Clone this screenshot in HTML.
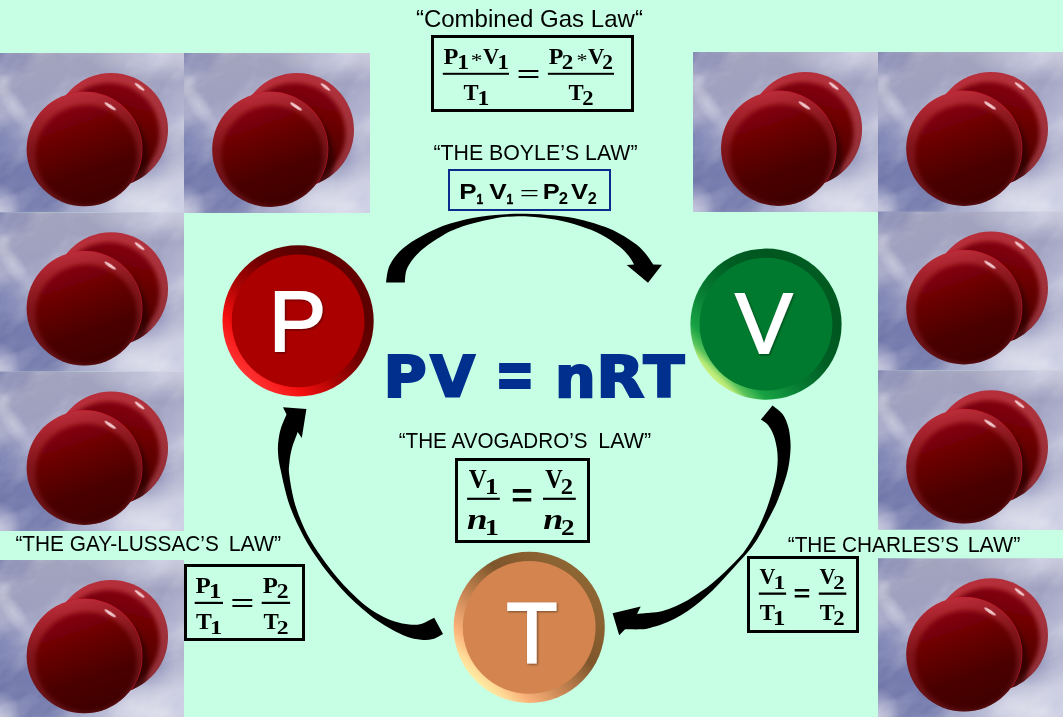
<!DOCTYPE html>
<html lang="en">
<head>
<meta charset="utf-8">
<title>Gas Laws</title>
<style>
html,body{margin:0;padding:0;background:#c6ffe4;overflow:hidden;}
svg{display:block;}
.ar{font-family:"Liberation Sans",Arial,sans-serif;}
.sr{font-family:"Liberation Serif","Times New Roman",serif;}
.b{font-weight:bold;}
.i{font-style:italic;}
.vb{font-family:"DejaVu Sans",Verdana,sans-serif;font-weight:bold;}
</style>
</head>
<body>
<svg width="1063" height="717" viewBox="0 0 1063 717">
<defs>
<linearGradient id="skyb" x1="0" y1="0" x2="0.15" y2="1">
  <stop offset="0" stop-color="#a4a4be"/>
  <stop offset="0.5" stop-color="#9c9ebf"/>
  <stop offset="1" stop-color="#9095bc"/>
</linearGradient>
<radialGradient id="cl" cx="0.5" cy="0.5" r="0.5">
  <stop offset="0" stop-color="#e2e2ee" stop-opacity="0.95"/>
  <stop offset="0.55" stop-color="#dcdcea" stop-opacity="0.55"/>
  <stop offset="1" stop-color="#d8d8e6" stop-opacity="0"/>
</radialGradient>
<radialGradient id="dk" cx="0.5" cy="0.5" r="0.5">
  <stop offset="0" stop-color="#6a71a6" stop-opacity="0.95"/>
  <stop offset="0.6" stop-color="#6a71a6" stop-opacity="0.6"/>
  <stop offset="1" stop-color="#6a71a6" stop-opacity="0"/>
</radialGradient>
<linearGradient id="rimF" x1="0.38" y1="0" x2="0.6" y2="1">
  <stop offset="0" stop-color="#bc2e3a"/>
  <stop offset="0.14" stop-color="#a6222c"/>
  <stop offset="0.4" stop-color="#80141a"/>
  <stop offset="1" stop-color="#5c1216"/>
</linearGradient>
<linearGradient id="inF" x1="0.3" y1="0" x2="0.65" y2="1">
  <stop offset="0" stop-color="#88070c"/>
  <stop offset="0.3" stop-color="#6a0104"/>
  <stop offset="0.65" stop-color="#4c0000"/>
  <stop offset="1" stop-color="#3e0000"/>
</linearGradient>
<linearGradient id="rimB" x1="0.2" y1="0" x2="0.8" y2="1">
  <stop offset="0" stop-color="#ba2e3a"/>
  <stop offset="0.5" stop-color="#aa323c"/>
  <stop offset="1" stop-color="#8e3038"/>
</linearGradient>
<linearGradient id="inB" x1="0.6" y1="0" x2="0.35" y2="1">
  <stop offset="0" stop-color="#84060a"/>
  <stop offset="0.4" stop-color="#640003"/>
  <stop offset="1" stop-color="#400000"/>
</linearGradient>
<filter id="bl2" x="-50%" y="-50%" width="200%" height="200%"><feGaussianBlur stdDeviation="2"/></filter>
<filter id="bl1" x="-50%" y="-50%" width="200%" height="200%"><feGaussianBlur stdDeviation="0.9"/></filter>
<filter id="bl05" x="-50%" y="-50%" width="200%" height="200%"><feGaussianBlur stdDeviation="0.6"/></filter>
<filter id="noise" x="0" y="0" width="100%" height="100%">
  <feTurbulence type="fractalNoise" baseFrequency="0.018 0.03" numOctaves="4" seed="11" result="n"/>
  <feColorMatrix in="n" type="matrix" values="0 0 0 0 0.93  0 0 0 0 0.93  0 0 0 0 0.97  2.4 0 0 0 -0.95"/>
</filter>
<filter id="noised" x="0" y="0" width="100%" height="100%">
  <feTurbulence type="fractalNoise" baseFrequency="0.02 0.03" numOctaves="3" seed="23" result="n"/>
  <feColorMatrix in="n" type="matrix" values="0 0 0 0 0.36  0 0 0 0 0.40  0 0 0 0 0.64  2.2 0 0 0 -0.9"/>
</filter>
<clipPath id="tclip"><rect x="0" y="0" width="186" height="160"/></clipPath>
<clipPath id="cF"><ellipse cx="86" cy="96.5" rx="57.8" ry="57.4"/></clipPath>
<clipPath id="cB"><ellipse cx="113" cy="77" rx="57" ry="57"/></clipPath>
<symbol id="tile" viewBox="0 0 186 160" preserveAspectRatio="none">
  <g clip-path="url(#tclip)">
  <rect width="186" height="160" fill="url(#skyb)"/>
  <ellipse cx="36" cy="124" rx="74" ry="58" fill="url(#dk)"/>
  <ellipse cx="0" cy="0" rx="44" ry="34" fill="url(#dk)" opacity="0.6"/>
  <ellipse cx="0" cy="100" rx="30" ry="42" fill="url(#dk)" opacity="0.9"/>
  <ellipse cx="160" cy="0" rx="72" ry="30" fill="url(#cl)" opacity="0.7"/>
  <ellipse cx="186" cy="72" rx="30" ry="60" fill="url(#cl)" opacity="0.5"/>
  <ellipse cx="152" cy="156" rx="88" ry="48" fill="url(#cl)"/>
  <ellipse cx="186" cy="130" rx="34" ry="40" fill="url(#cl)" opacity="0.7"/>
  <ellipse cx="165" cy="152" rx="55" ry="30" fill="url(#cl)" opacity="0.8"/>
  <ellipse cx="0" cy="156" rx="22" ry="26" fill="url(#cl)" opacity="0.6"/>
  <ellipse cx="15" cy="53" rx="30" ry="10" transform="rotate(54 15 53)" fill="url(#cl)" opacity="0.55"/>
  <ellipse cx="5" cy="28" rx="9" ry="8" fill="url(#cl)" opacity="0.4"/>
  <ellipse cx="58" cy="135" rx="8" ry="6" fill="url(#cl)" opacity="0.4"/>
  <g transform="rotate(-28 93 80)"><rect x="-60" y="-60" width="300" height="280" filter="url(#noise)" opacity="0.28"/><rect x="-60" y="-60" width="300" height="280" filter="url(#noised)" opacity="0.3"/></g>
  <!-- back sphere -->
  <ellipse cx="113" cy="77" rx="57" ry="57" fill="url(#rimB)"/>
  <g clip-path="url(#cB)">
    <ellipse cx="110.5" cy="80.5" rx="51" ry="50.5" fill="url(#inB)" filter="url(#bl2)"/>
    <ellipse cx="92" cy="106" rx="58" ry="58" fill="#2c0000" opacity="0.7" filter="url(#bl2)"/>
  </g>
  <ellipse cx="141.5" cy="34" rx="6" ry="1.5" transform="rotate(38 141.5 34)" fill="#ffe4e6" opacity="0.85" filter="url(#bl05)"/>
  <!-- front sphere -->
  <g clip-path="url(#cB)"><ellipse cx="86" cy="96.5" rx="58.3" ry="57.9" fill="#c81428"/></g>
  <ellipse cx="86" cy="96.5" rx="57.8" ry="57.4" fill="url(#rimF)"/>
  <g clip-path="url(#cF)">
    <ellipse cx="88" cy="102.5" rx="51" ry="50" fill="url(#inF)" filter="url(#bl2)"/>
  </g>
  <ellipse cx="112" cy="53.5" rx="7" ry="1.6" transform="rotate(34 112 53.5)" fill="#ffe4e6" opacity="0.85" filter="url(#bl05)"/>
  </g>
</symbol>
<linearGradient id="ringP" x1="0.85" y1="0.15" x2="0.15" y2="0.85">
  <stop offset="0" stop-color="#640000"/>
  <stop offset="0.15" stop-color="#5a0000"/>
  <stop offset="0.4" stop-color="#700000"/>
  <stop offset="0.62" stop-color="#ac0404"/>
  <stop offset="0.82" stop-color="#f40e0e"/>
  <stop offset="1" stop-color="#ff3232"/>
</linearGradient>
<linearGradient id="ringV" x1="0.85" y1="0.15" x2="0.15" y2="0.85">
  <stop offset="0" stop-color="#005c22"/>
  <stop offset="0.15" stop-color="#00561e"/>
  <stop offset="0.4" stop-color="#005e24"/>
  <stop offset="0.63" stop-color="#067a32"/>
  <stop offset="0.85" stop-color="#18a244"/>
  <stop offset="0.93" stop-color="#5ac45c"/>
  <stop offset="0.975" stop-color="#b4e876"/>
  <stop offset="1" stop-color="#c8f07e"/>
</linearGradient>
<linearGradient id="ringT" x1="0.85" y1="0.15" x2="0.15" y2="0.85">
  <stop offset="0" stop-color="#8e6634"/>
  <stop offset="0.15" stop-color="#8a6030"/>
  <stop offset="0.38" stop-color="#7e562c"/>
  <stop offset="0.63" stop-color="#c48250"/>
  <stop offset="0.85" stop-color="#fab27a"/>
  <stop offset="0.95" stop-color="#ffdc98"/>
  <stop offset="1" stop-color="#ffeca2"/>
</linearGradient>
<filter id="tsh" x="-20%" y="-20%" width="140%" height="140%">
  <feGaussianBlur in="SourceAlpha" stdDeviation="0.8" result="b"/>
  <feOffset in="b" dx="0.6" dy="0.6" result="o"/>
  <feComponentTransfer in="o" result="s"><feFuncA type="linear" slope="0.45"/></feComponentTransfer>
  <feMerge><feMergeNode in="s"/><feMergeNode in="SourceGraphic"/></feMerge>
</filter>

</defs>
<rect width="1063" height="717" fill="#c6ffe4"/>
<g>
<use href="#tile" x="-1.5" y="53" width="185.5" height="159.4"/>
<use href="#tile" x="184" y="53" width="186" height="160"/>
<use href="#tile" x="-1.5" y="212.3" width="185.5" height="159.4"/>
<use href="#tile" x="-1.5" y="371.6" width="185.5" height="159.4"/>
<use href="#tile" x="-1.5" y="560" width="185.5" height="159.4"/>
<use href="#tile" x="693" y="52" width="185" height="160"/>
<use href="#tile" x="878" y="52" width="186" height="160"/>
<use href="#tile" x="878" y="211.5" width="186" height="159"/>
<use href="#tile" x="878" y="370.3" width="186" height="159.4"/>
<use href="#tile" x="878" y="558.2" width="186" height="159.4"/>
</g>

<g fill="#000">
<path d="M386.0 282.5 C386.7 279.5 386.8 270.7 390.0 264.7 C393.2 258.7 397.5 252.6 405.0 246.7 C412.5 240.8 425.1 233.8 435.2 229.3 C445.2 224.8 455.3 222.0 465.3 219.6 C475.3 217.2 485.4 216.0 495.4 215.0 C505.4 214.0 515.6 213.7 525.5 213.8 C535.4 213.9 545.9 214.7 555.0 215.6 C564.1 216.5 571.2 217.4 580.0 219.5 C588.8 221.6 599.8 224.8 607.9 228.1 C616.0 231.4 623.0 235.6 628.8 239.3 C634.6 243.0 638.7 246.2 642.8 250.4 C646.9 254.6 651.5 262.1 653.2 264.4 L662.0 264.8 L648.0 282.8 L626.7 265.1 L634.1 264.4 C633.2 263.0 631.3 259.0 628.8 256.0 C626.3 253.0 623.6 249.9 619.0 246.3 C614.4 242.7 607.5 237.8 601.0 234.4 C594.5 231.0 587.7 228.5 580.0 226.0 C572.3 223.5 562.5 221.1 555.0 219.6 C547.5 218.1 541.2 217.6 535.0 217.0 C528.8 216.4 524.6 216.0 518.0 216.2 C511.4 216.4 504.2 216.6 495.4 218.2 C486.6 219.8 474.1 222.7 465.3 225.6 C456.5 228.5 450.2 231.1 442.7 235.4 C435.2 239.7 426.1 245.8 420.2 251.2 C414.3 256.6 410.0 262.5 407.4 267.7 C404.8 272.9 405.2 280.0 404.8 282.5 Z"/>
<path d="M772.5 405.5 C774.2 406.9 779.9 410.5 782.5 414.0 C785.1 417.5 786.8 422.0 788.1 426.3 C789.4 430.6 789.9 435.2 790.3 439.7 C790.7 444.2 790.7 448.3 790.3 453.1 C789.9 457.9 789.2 463.5 788.1 468.7 C787.0 473.9 785.5 478.7 783.6 484.3 C781.7 489.9 779.5 496.2 776.9 502.2 C774.3 508.2 771.1 514.1 768.0 520.1 C764.9 526.1 761.1 532.9 758.0 537.9 C754.9 542.9 752.8 545.8 749.5 550.0 C746.2 554.2 742.0 558.5 738.0 563.0 C734.0 567.5 729.5 572.5 725.3 577.0 C721.1 581.5 717.0 586.1 712.8 590.2 C708.6 594.3 704.4 598.0 700.2 601.5 C696.0 605.0 691.9 608.1 687.7 610.9 C683.5 613.7 679.3 616.2 675.1 618.4 C670.9 620.6 666.8 622.5 662.6 624.1 C658.4 625.7 653.5 627.0 650.0 627.9 C646.5 628.8 645.9 629.1 641.8 629.3 C637.6 629.5 627.9 629.3 625.1 629.3 L619.2 635.3 L612.6 613.2 L640.7 606.5 L637.0 614.0 C639.2 613.8 645.7 613.3 650.0 612.8 C654.3 612.3 658.4 611.9 662.6 610.9 C666.8 609.9 670.9 608.3 675.1 606.5 C679.3 604.7 683.5 602.6 687.7 600.2 C691.9 597.8 696.0 595.0 700.2 592.1 C704.4 589.2 708.6 586.2 712.8 582.7 C717.0 579.2 721.1 575.4 725.3 571.4 C729.5 567.4 734.4 562.5 737.9 558.8 C741.4 555.1 742.9 553.6 746.0 549.0 C749.1 544.4 753.5 537.5 756.8 531.2 C760.1 524.9 763.3 517.4 765.8 511.1 C768.3 504.8 770.1 498.9 771.8 493.3 C773.5 487.7 774.8 482.8 775.8 477.6 C776.8 472.4 777.4 466.8 777.6 462.0 C777.8 457.2 777.6 453.1 776.9 448.6 C776.2 444.1 775.1 439.1 773.6 435.2 C772.1 431.3 770.1 427.7 768.0 425.1 C765.9 422.5 762.1 420.5 760.9 419.6 Z"/>
<path d="M443.0 634.0 C441.3 634.9 436.5 638.1 432.8 639.1 C429.1 640.1 425.4 640.2 421.0 639.8 C416.6 639.4 411.3 638.2 406.4 636.5 C401.5 634.8 396.7 632.2 391.8 629.5 C386.9 626.8 382.0 623.9 377.1 620.5 C372.2 617.1 367.4 613.1 362.5 608.9 C357.6 604.7 352.7 600.4 347.8 595.5 C342.9 590.6 338.1 585.2 333.2 579.3 C328.3 573.4 323.5 567.4 318.6 560.3 C313.7 553.2 308.8 546.2 303.9 536.9 C299.0 527.6 293.2 515.7 289.3 504.4 C285.4 493.1 282.4 478.0 280.5 469.3 C278.6 460.6 278.3 456.9 278.0 452.0 C277.7 447.1 278.0 444.0 278.5 440.0 C279.0 436.0 279.7 432.2 281.0 428.0 C282.3 423.8 285.6 416.8 286.5 414.5 L283.0 407.3 L306.4 409.0 L301.8 438.0 L297.7 432.0 C296.8 434.7 293.4 443.0 292.0 448.0 C290.6 453.0 289.9 457.5 289.5 462.0 C289.1 466.5 288.4 468.0 289.3 475.1 C290.2 482.2 292.2 494.6 295.1 504.4 C298.0 514.2 302.5 524.9 306.9 533.7 C311.3 542.5 316.6 550.0 321.5 557.1 C326.4 564.2 331.2 570.3 336.1 576.2 C341.0 582.1 345.9 587.4 350.8 592.3 C355.7 597.2 360.5 601.6 365.4 605.4 C370.3 609.2 375.1 612.4 380.0 615.1 C384.9 617.8 389.8 620.0 394.7 621.6 C399.6 623.2 404.9 624.1 409.3 624.5 C413.7 624.9 416.9 625.0 421.0 623.9 C425.1 622.8 432.0 618.7 434.2 617.7 Z"/>
</g>

<g>
<circle cx="298.1" cy="320.9" r="75.6" fill="url(#ringP)"/>
<circle cx="298.1" cy="320.9" r="66.4" fill="#aa0000"/>
<circle cx="766" cy="324.2" r="75.6" fill="url(#ringV)"/>
<circle cx="766" cy="324.2" r="66.4" fill="#007a2e"/>
<circle cx="529.2" cy="627.3" r="75.6" fill="url(#ringT)"/>
<circle cx="529.2" cy="627.3" r="66.4" fill="#d4854f"/>
<g class="ar" fill="#fff" stroke="#fff" stroke-width="1.8" stroke-linejoin="miter" font-size="86" filter="url(#tsh)">
<text x="268.65" y="350.8">P</text>
<text x="735.2" y="353.1">V</text>
<text transform="translate(531.9 661.8) scale(0.975 1)" x="-26.23" y="0">T</text>
</g>
</g>

<g class="vb" fill="#002f8e" stroke="#002f8e" stroke-width="2.2" stroke-linejoin="miter">
<text><tspan font-size="57.34" x="383.48" y="396.90" textLength="43.23" lengthAdjust="spacingAndGlyphs">P</tspan><tspan font-size="57.34" x="430.32" y="396.90" textLength="44.66" lengthAdjust="spacingAndGlyphs">V</tspan></text>
<text font-size="100" stroke-width="2.90" transform="translate(494.81 398.03) scale(0.4808 0.6896)">=</text>
<text><tspan font-size="56.07" x="555.10" y="396.90" textLength="40.66" lengthAdjust="spacingAndGlyphs">n</tspan><tspan font-size="57.34" x="596.38" y="396.90" textLength="47.97" lengthAdjust="spacingAndGlyphs">R</tspan><tspan font-size="57.34" x="643.61" y="396.90" textLength="40.81" lengthAdjust="spacingAndGlyphs">T</tspan></text>
</g>
<g class="ar" fill="#000">
<text x="415.90" y="26.90" font-size="24.6" textLength="227.00" lengthAdjust="spacingAndGlyphs">“Combined Gas Law“</text>
<text x="433.41" y="159.80" font-size="21.5" textLength="204.17" lengthAdjust="spacingAndGlyphs">“THE BOYLE’S LAW”</text>
<text x="398.71" y="447.90" font-size="21.5" textLength="188.87" lengthAdjust="spacingAndGlyphs">“THE AVOGADRO’S</text>
<text x="598.34" y="447.90" font-size="21.5" textLength="52.85" lengthAdjust="spacingAndGlyphs">LAW”</text>
<text x="15.41" y="550.70" font-size="21.5" textLength="203.47" lengthAdjust="spacingAndGlyphs">“THE GAY-LUSSAC’S</text>
<text x="228.74" y="550.70" font-size="21.5" textLength="52.45" lengthAdjust="spacingAndGlyphs">LAW”</text>
<text x="787.71" y="551.90" font-size="21.5" textLength="171.17" lengthAdjust="spacingAndGlyphs">“THE CHARLES’S</text>
<text x="967.74" y="551.90" font-size="21.5" textLength="52.65" lengthAdjust="spacingAndGlyphs">LAW”</text>
</g>
<g fill="#000">
<rect x="432.50" y="36.50" width="200.00" height="74.00" fill="none" stroke="#000" stroke-width="3.00"/>
<text><tspan class="sr b" font-size="23.82" x="443.48" y="63.90" textLength="14.91" lengthAdjust="spacingAndGlyphs">P</tspan><tspan class="sr b" font-size="20.45" x="457.31" y="68.70" textLength="11.82" lengthAdjust="spacingAndGlyphs">1</tspan><tspan class="sr" font-size="19.63" x="470.65" y="66.96" textLength="11.78" lengthAdjust="spacingAndGlyphs">*</tspan><tspan class="sr b" font-size="23.82" x="483.05" y="63.90" textLength="16.20" lengthAdjust="spacingAndGlyphs">V</tspan><tspan class="sr b" font-size="20.45" x="497.57" y="68.70" textLength="11.41" lengthAdjust="spacingAndGlyphs">1</tspan></text>
<rect x="442.80" y="72.80" width="66.20" height="2.00" fill="#000"/>
<text class="sr b" font-size="100" transform="translate(516.48 83.63) scale(0.4259 0.2963)">=</text>
<text><tspan class="sr b" font-size="23.82" x="548.69" y="63.90" textLength="14.58" lengthAdjust="spacingAndGlyphs">P</tspan><tspan class="sr b" font-size="20.39" x="561.83" y="68.70" textLength="11.57" lengthAdjust="spacingAndGlyphs">2</tspan><tspan class="sr" font-size="19.63" x="576.42" y="66.96" textLength="11.03" lengthAdjust="spacingAndGlyphs">*</tspan><tspan class="sr b" font-size="23.82" x="588.04" y="63.90" textLength="16.41" lengthAdjust="spacingAndGlyphs">V</tspan><tspan class="sr b" font-size="20.39" x="602.30" y="68.70" textLength="10.72" lengthAdjust="spacingAndGlyphs">2</tspan></text>
<rect x="547.90" y="72.80" width="66.10" height="2.00" fill="#000"/>
<text><tspan class="sr b" font-size="23.67" x="463.45" y="99.80" textLength="15.10" lengthAdjust="spacingAndGlyphs">T</tspan><tspan class="sr b" font-size="20.15" x="477.41" y="104.80" textLength="11.82" lengthAdjust="spacingAndGlyphs">1</tspan></text>
<text><tspan class="sr b" font-size="23.67" x="568.54" y="99.80" textLength="15.20" lengthAdjust="spacingAndGlyphs">T</tspan><tspan class="sr b" font-size="20.09" x="582.15" y="104.80" textLength="11.32" lengthAdjust="spacingAndGlyphs">2</tspan></text>
<rect x="449.00" y="170.00" width="161.00" height="40.00" fill="none" stroke="#0a2c8c" stroke-width="2.00"/>
<text><tspan class="ar b" font-size="22.53" x="459.26" y="199.40" textLength="17.33" lengthAdjust="spacingAndGlyphs">P</tspan><tspan class="ar b" font-size="15.26" stroke="#000" stroke-width="0.50" x="476.44" y="204.00" textLength="6.69" lengthAdjust="spacingAndGlyphs">1</tspan><tspan class="ar b" font-size="22.53" x="489.32" y="199.40" textLength="17.46" lengthAdjust="spacingAndGlyphs">V</tspan><tspan class="ar b" font-size="15.26" stroke="#000" stroke-width="0.50" x="506.44" y="204.00" textLength="6.69" lengthAdjust="spacingAndGlyphs">1</tspan></text>
<text class="sr" font-size="100" transform="translate(519.69 200.97) scale(0.3438 0.2400)">=</text>
<text><tspan class="ar b" font-size="22.53" x="542.80" y="199.40" textLength="16.97" lengthAdjust="spacingAndGlyphs">P</tspan><tspan class="ar b" font-size="16.04" x="558.72" y="204.20" textLength="9.24" lengthAdjust="spacingAndGlyphs">2</tspan><tspan class="ar b" font-size="22.53" x="571.12" y="199.40" textLength="17.15" lengthAdjust="spacingAndGlyphs">V</tspan><tspan class="ar b" font-size="16.04" x="587.74" y="204.20" textLength="9.01" lengthAdjust="spacingAndGlyphs">2</tspan></text>
<rect x="456.50" y="459.50" width="132.00" height="82.00" fill="none" stroke="#000" stroke-width="3.00"/>
<text><tspan class="sr b" font-size="27.80" x="468.82" y="487.50" textLength="18.06" lengthAdjust="spacingAndGlyphs">V</tspan><tspan class="sr b" font-size="23.33" x="484.80" y="493.70" textLength="13.72" lengthAdjust="spacingAndGlyphs">1</tspan></text>
<rect x="467.10" y="497.70" width="32.70" height="2.20" fill="#000"/>
<text class="ar b" font-size="100" transform="translate(511.17 506.84) scale(0.3689 0.3334)">=</text>
<text><tspan class="sr b" font-size="27.80" x="545.23" y="487.50" textLength="17.55" lengthAdjust="spacingAndGlyphs">V</tspan><tspan class="sr b" font-size="23.26" x="560.87" y="493.70" textLength="12.29" lengthAdjust="spacingAndGlyphs">2</tspan></text>
<rect x="543.00" y="497.70" width="32.80" height="2.20" fill="#000"/>
<text><tspan class="sr b i" font-size="29.50" x="466.94" y="528.90" textLength="20.56" lengthAdjust="spacingAndGlyphs">n</tspan><tspan class="sr b" font-size="23.33" x="484.72" y="534.80" textLength="14.26" lengthAdjust="spacingAndGlyphs">1</tspan></text>
<text><tspan class="sr b i" font-size="29.50" x="543.36" y="528.90" textLength="19.99" lengthAdjust="spacingAndGlyphs">n</tspan><tspan class="sr b" font-size="23.26" x="560.96" y="534.80" textLength="13.61" lengthAdjust="spacingAndGlyphs">2</tspan></text>
<rect x="185.50" y="565.50" width="118.00" height="74.00" fill="none" stroke="#000" stroke-width="3.00"/>
<text><tspan class="sr b" font-size="23.82" x="195.47" y="593.00" textLength="15.23" lengthAdjust="spacingAndGlyphs">P</tspan><tspan class="sr b" font-size="20.00" x="209.02" y="597.70" textLength="12.36" lengthAdjust="spacingAndGlyphs">1</tspan></text>
<rect x="194.70" y="601.80" width="28.30" height="2.20" fill="#000"/>
<text class="sr b" font-size="100" transform="translate(230.17 612.88) scale(0.4281 0.2889)">=</text>
<text><tspan class="sr b" font-size="23.82" x="262.78" y="593.00" textLength="15.12" lengthAdjust="spacingAndGlyphs">P</tspan><tspan class="sr b" font-size="19.94" x="276.81" y="597.70" textLength="11.81" lengthAdjust="spacingAndGlyphs">2</tspan></text>
<rect x="261.70" y="601.80" width="28.40" height="2.20" fill="#000"/>
<text><tspan class="sr b" font-size="23.37" x="196.13" y="629.10" textLength="15.83" lengthAdjust="spacingAndGlyphs">T</tspan><tspan class="sr b" font-size="19.84" x="210.04" y="634.00" textLength="12.22" lengthAdjust="spacingAndGlyphs">1</tspan></text>
<text><tspan class="sr b" font-size="23.37" x="263.44" y="629.10" textLength="15.31" lengthAdjust="spacingAndGlyphs">T</tspan><tspan class="sr b" font-size="19.79" x="276.81" y="634.00" textLength="11.81" lengthAdjust="spacingAndGlyphs">2</tspan></text>
<rect x="748.50" y="557.50" width="109.00" height="74.00" fill="none" stroke="#000" stroke-width="3.00"/>
<text><tspan class="sr b" font-size="23.52" x="759.55" y="583.80" textLength="15.89" lengthAdjust="spacingAndGlyphs">V</tspan><tspan class="sr b" font-size="19.39" x="773.51" y="588.50" textLength="11.82" lengthAdjust="spacingAndGlyphs">1</tspan></text>
<rect x="758.80" y="592.50" width="27.30" height="2.30" fill="#000"/>
<text class="ar b" font-size="100" transform="translate(793.60 601.05) scale(0.2892 0.2143)">=</text>
<text><tspan class="sr b" font-size="23.52" x="819.45" y="583.80" textLength="15.89" lengthAdjust="spacingAndGlyphs">V</tspan><tspan class="sr b" font-size="19.33" x="833.24" y="588.50" textLength="11.44" lengthAdjust="spacingAndGlyphs">2</tspan></text>
<rect x="818.80" y="592.50" width="27.50" height="2.30" fill="#000"/>
<text><tspan class="sr b" font-size="23.82" x="759.64" y="619.80" textLength="15.31" lengthAdjust="spacingAndGlyphs">T</tspan><tspan class="sr b" font-size="20.15" x="773.02" y="624.60" textLength="12.36" lengthAdjust="spacingAndGlyphs">1</tspan></text>
<text><tspan class="sr b" font-size="23.82" x="819.85" y="619.80" textLength="14.99" lengthAdjust="spacingAndGlyphs">T</tspan><tspan class="sr b" font-size="20.09" x="833.24" y="624.60" textLength="11.44" lengthAdjust="spacingAndGlyphs">2</tspan></text>
</g>

</svg>
</body>
</html>
